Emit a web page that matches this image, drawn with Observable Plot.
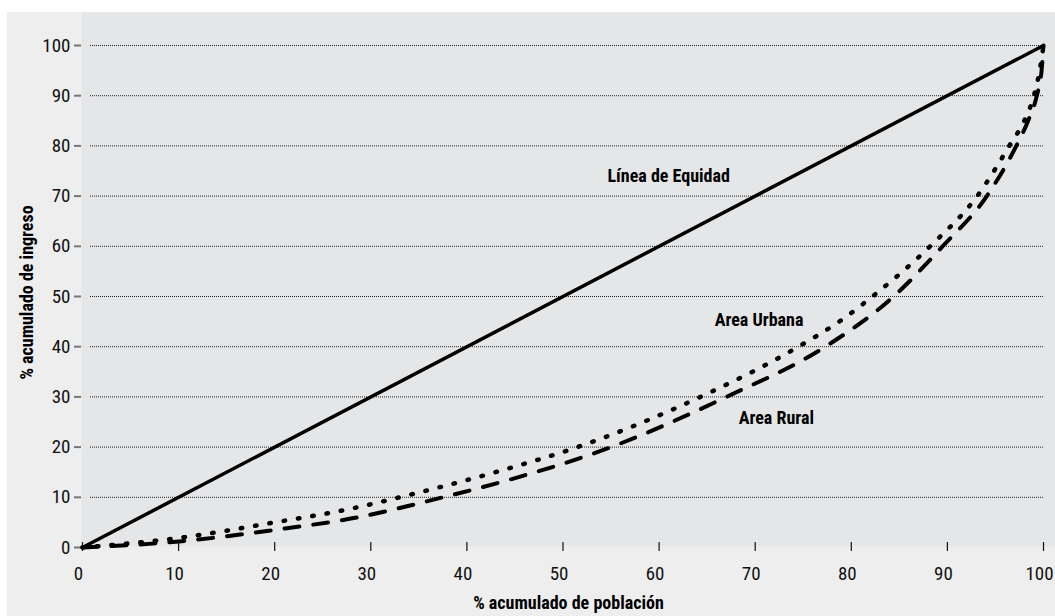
<!DOCTYPE html>
<html><head><meta charset="utf-8">
<script src="https://cdn.jsdelivr.net/npm/d3@7"></script>
<script src="https://cdn.jsdelivr.net/npm/@observablehq/plot@0.6"></script>
<style>
body{margin:0;background:#fff;}
#wrap{position:absolute;left:7px;top:12px;width:1048px;height:604px;background:#eeeeee;}
#wrap svg{display:block;}
</style></head><body><div id="wrap"></div>
<script>
const xTicks = [0,10,20,30,40,50,60,70,80,90,100];
const yTicks = [0,10,20,30,40,50,60,70,80,90,100];
const gridValues = [10,20,30,40,50,60,70,80,90,100];
const equityX = [0,100];
const equityY = [0,100];
const urbanX = [0,10,20,28.6,33,43.5,51.5,64.3,74.5,79.2,82.2,88.2,93.1,96.6,98,99,99.6,100];
const urbanY = [0,1.9,5.0,8.0,10,15.3,20,30,40,45.6,50,60,70,80.5,85,90,95,100];
const ruralX = [0,10,20,28.6,37.5,43.5,55,67,77.3,84.4,89.5,94.1,97.3,98.4,99.3,99.8,100];
const ruralY = [0,1.2,3.5,6.0,10,13.0,20,30,40,50,60,70,80.5,85,90,95,100];
const labelText = ["Línea de Equidad","Area Urbana","Area Rural"];
const labelX = [61,70.4,72.2];
const labelY = [74,45.2,25.7];
const xTitle = "% acumulado de población";
const yTitle = "% acumulado de ingreso";

const font = '"Liberation Sans Narrow","Roboto Condensed","DejaVu Sans Condensed","Arial Narrow",sans-serif';
const toPts = (xs, ys) => xs.map((x, i) => ({x, y: ys[i]}));
const equity = toPts(equityX, equityY);
const urban = toPts(urbanX, urbanY);
const rural = toPts(ruralX, ruralY);
const labels = labelText.map((t, i) => ({t, x: labelX[i], y: labelY[i]}));

const chart = Plot.plot({
  width: 1048,
  height: 604,
  marginTop: 0,
  marginLeft: 74,
  marginRight: 0,
  marginBottom: 70,
  style: {background: "transparent", fontFamily: font, fontSize: "18px", color: "#000", overflow: "visible"},
  x: {domain: [0, 100], range: [75, 1036]},
  y: {domain: [0, 100], range: [535, 33]},
  marks: [
    Plot.frame({fill: "#e5e6e8", stroke: null}),
    Plot.ruleY(gridValues, {y: d => d, x1: 0, x2: 100, insetLeft: 8, stroke: "#222", strokeWidth: 1, strokeDasharray: "1,1"}),
    Plot.axisY({ticks: yTicks, tickSize: 7, tickPadding: 4, stroke: "#777", strokeWidth: 2, label: null, fontSize: 19, fill: "#111"}),
    Plot.axisX({ticks: xTicks, tickSize: 0, tickPadding: 20, dx: -4, label: null, fontSize: 19, fill: "#111"}),
    Plot.ruleX(xTicks, {x: d => d, y1: 0, y2: 0, insetTop: -5, insetBottom: -4, stroke: "#111", strokeWidth: 1.2}),
    Plot.line(equity, {x: "x", y: "y", stroke: "#000", strokeWidth: 3.5}),
    Plot.line(urban, {x: "x", y: "y", curve: "monotone-x", stroke: "#000", strokeWidth: 4.5, strokeLinecap: "round", strokeDasharray: "1.5,13"}),
    Plot.line(rural, {x: "x", y: "y", curve: "monotone-x", stroke: "#000", strokeWidth: 4, strokeLinecap: "round", strokeDasharray: "15,14"}),
    Plot.text(labels, {x: "x", y: "y", text: "t", fontWeight: "bold", fontSize: 18, fill: "#000"}),
    Plot.text([xTitle], {text: d => d, frameAnchor: "bottom", dy: 62, fontWeight: "bold", fontSize: 18, fill: "#000"}),
    Plot.text([yTitle], {text: d => d, frameAnchor: "left", textAnchor: "middle", dx: -54, dy: 13, rotate: -90, fontWeight: "bold", fontSize: 18, fill: "#000"})
  ]
});
document.getElementById("wrap").appendChild(chart);
</script></body></html>
